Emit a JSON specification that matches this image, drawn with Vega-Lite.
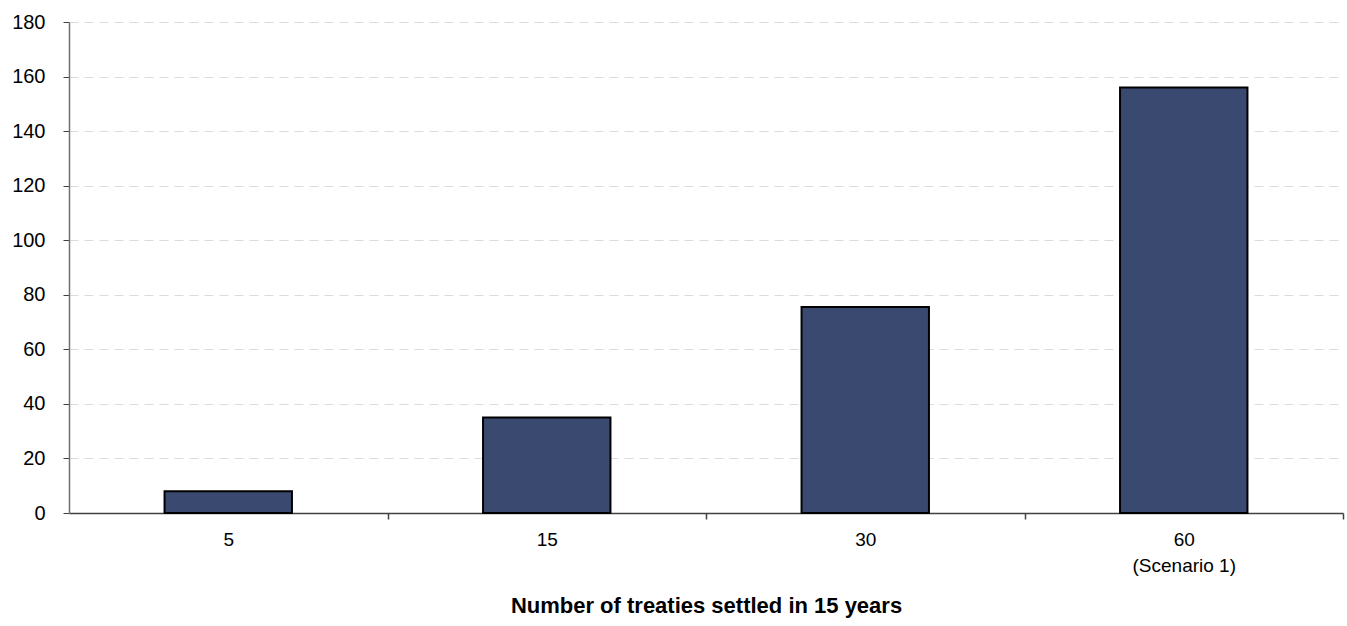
{
  "$schema": "https://vega.github.io/schema/vega-lite/v6.json",
  "width": 1274,
  "height": 491,
  "autosize": {"type": "none"},
  "padding": {"left": 69, "top": 22, "right": 4, "bottom": 113},
  "background": "white",
  "config": {
    "view": {"stroke": null},
    "font": "Liberation Sans",
    "axis": {"labelFont": "Liberation Sans", "labelColor": "#000000", "titleColor": "#000000"}
  },
  "data": {
    "values": [
      {"treaties": "5", "pct": 8},
      {"treaties": "15", "pct": 35},
      {"treaties": "30", "pct": 75.5},
      {"treaties": "60|(Scenario 1)", "pct": 156}
    ]
  },
  "mark": {"type": "bar", "fill": "#3a4970", "stroke": "#000000", "strokeWidth": 2},
  "encoding": {
    "x": {
      "field": "treaties",
      "type": "nominal",
      "sort": null,
      "scale": {"paddingInner": 0.6, "paddingOuter": 0.3},
      "axis": {
        "title": "Number of treaties settled in 15 years",
        "titleFont": "Liberation Sans",
        "titleFontSize": 22,
        "titleFontWeight": "bold",
        "titlePadding": 20,
        "labelAngle": 0,
        "labelFontSize": 19,
        "labelPadding": 11,
        "labelLineHeight": 26,
        "labelExpr": "split(datum.label, '|')",
        "domainColor": "#404040",
        "domainWidth": 1.5,
        "tickColor": "#404040",
        "tickWidth": 1.5,
        "tickSize": 6,
        "tickOffset": 159.25,
        "labelOffset": -159.25,
        "grid": false
      }
    },
    "y": {
      "field": "pct",
      "type": "quantitative",
      "scale": {"domain": [0, 180], "nice": false},
      "axis": {
        "title": null,
        "values": [0, 20, 40, 60, 80, 100, 120, 140, 160, 180],
        "labelFontSize": 20,
        "labelPadding": 18,
        "domainColor": "#707070",
        "domainWidth": 1.5,
        "tickColor": "#404040",
        "tickSize": 6,
        "grid": true,
        "gridColor": "#dcdcdc",
        "gridDash": [9, 6],
        "gridWidth": 1
      }
    }
  }
}
